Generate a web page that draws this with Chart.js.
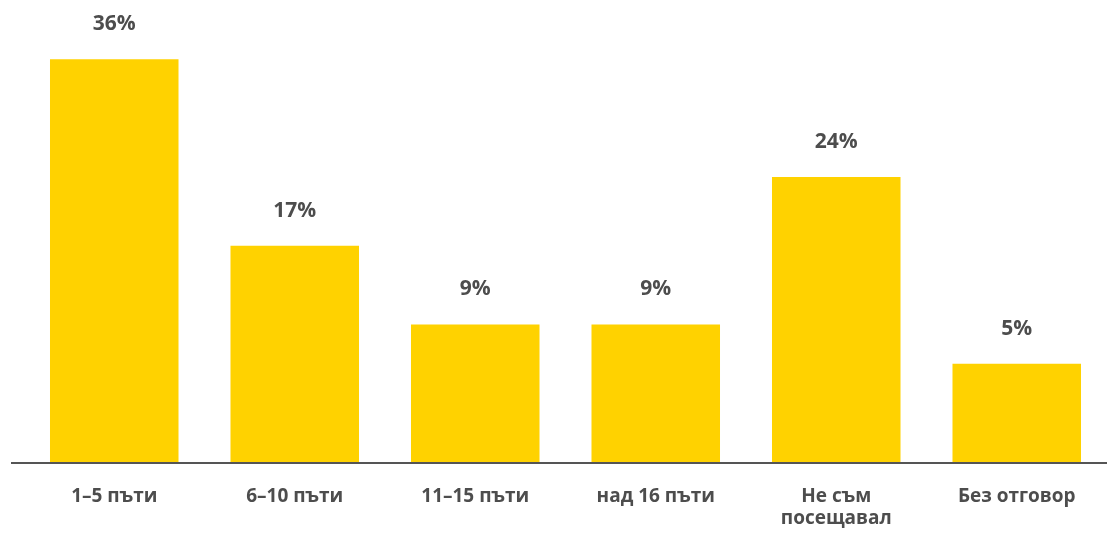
<!DOCTYPE html>
<html>
<head>
<meta charset="utf-8">
<script src="https://cdn.jsdelivr.net/npm/chart.js@4"></script>
<style>
  html, body { margin: 0; padding: 0; background: #fff; }
  #wrap { width: 1107px; height: 536px; position: relative; }
</style>
</head>
<body>
<div id="wrap"><canvas id="visits"></canvas></div>
<script>
const categories = [['1–5 пъти'], ['6–10 пъти'], ['11–15 пъти'], ['над 16 пъти'], ['Не съм', 'посещавал'], ['Без отговор']];
const shares = [36, 17, 9, 9, 24, 5];
const valueLabels = ['36%', '17%', '9%', '9%', '24%', '5%'];

const textColor = '#4d4d4d';
const fontFamily = '"Open Sans", Roboto, sans-serif';

// percentage above each bar + the dark baseline under the bars
const barLabels = {
  id: 'barLabels',
  afterDatasetsDraw(chart) {
    const ctx = chart.ctx;
    const area = chart.chartArea;
    ctx.save();
    ctx.strokeStyle = '#555555';
    ctx.lineWidth = 2;
    ctx.beginPath();
    ctx.moveTo(11, area.bottom + 1);
    ctx.lineTo(chart.width, area.bottom + 1);
    ctx.stroke();

    ctx.fillStyle = textColor;
    ctx.font = 'bold 21px ' + fontFamily;
    ctx.textAlign = 'center';
    ctx.textBaseline = 'middle';
    chart.getDatasetMeta(0).data.forEach((bar, i) => {
      ctx.fillText(valueLabels[i], bar.x, bar.y - 35);
    });
    ctx.restore();
  }
};

new Chart(document.getElementById('visits').getContext('2d'), {
  type: 'bar',
  data: {
    labels: categories,
    datasets: [{
      data: shares,
      base: -5,
      backgroundColor: '#FFD200',
      borderWidth: 0,
      barPercentage: 1,
      categoryPercentage: 0.712
    }]
  },
  options: {
    responsive: true,
    maintainAspectRatio: false,
    animation: false,
    layout: { padding: { top: 10, left: 24, right: 0, bottom: 0 } },
    plugins: {
      legend: { display: false },
      tooltip: { enabled: false }
    },
    scales: {
      y: {
        display: false,
        min: -5,
        max: 41
      },
      x: {
        grid: { display: false, drawTicks: false },
        border: { display: false },
        afterFit(scale) { scale.height = 74; },
        ticks: {
          color: textColor,
          padding: 24,
          maxRotation: 0,
          autoSkip: false,
          font: { family: fontFamily, size: 19, weight: 'bold', lineHeight: 1.15 }
        }
      }
    }
  },
  plugins: [barLabels]
});
</script>
</body>
</html>
